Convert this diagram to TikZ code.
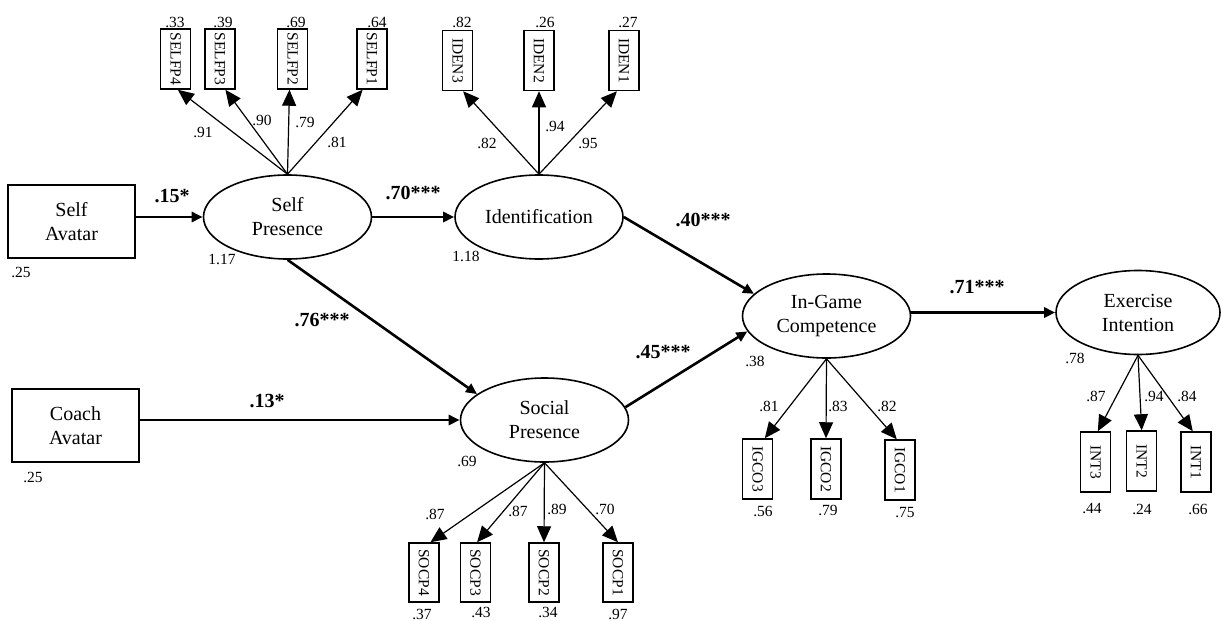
\documentclass[tikz,border=0pt]{standalone}
\usepackage{fontspec}
\setmainfont{Liberation Serif}
\usetikzlibrary{arrows.meta,shapes.geometric}
\begin{document}
\begin{tikzpicture}[x=1pt,y=-1pt,
  lat/.style={draw, ellipse, line width=1.6pt, minimum width=168pt, minimum height=84pt, inner sep=0pt, align=center, font=\fontsize{20}{24}\selectfont},
  obsbox/.style={draw, line width=2.8pt, minimum width=127pt, minimum height=73pt, align=center, font=\fontsize{20}{24}\selectfont},
  ind/.style={draw, line width=1.5pt, minimum width=30pt, minimum height=60pt, inner sep=0pt, font=\fontsize{15.5}{18}\selectfont},
  val/.style={inner sep=0pt, font=\fontsize{15.5}{18}\selectfont},
  coef/.style={inner sep=0pt, font=\fontsize{20}{24}\selectfont\bfseries},
  meas/.style={line width=1.2pt, -{Triangle[length=16pt,width=14pt]}},
  struct/.style={line width=2.6pt, -{Triangle[length=11pt,width=10pt]}},
]
\useasboundingbox (0,0) rectangle (1221,621);

% exogenous observed
\node[obsbox] (sa) at (71.5,221.5) {Self\\Avatar};
\node[obsbox] (ca) at (75.5,425.5) {Coach\\Avatar};
\node[val] (vsa) at (21,272) {.25};
\node[val] (vca) at (33,477) {.25};

% latent
\node[lat] (spres) at (287.5,217) {Self\\Presence};
\node[lat] (iden) at (539,217) {Identification};
\node[lat] (socp) at (544.5,420) {Social\\Presence};
\node[lat] (igc) at (826.5,316) {In-Game\\Competence};
\node[lat, minimum width=164pt] (exi) at (1138,312.5) {Exercise\\Intention};

\node[val] (vsp) at (222,259) {1.17};
\node[val] (vid) at (466,256) {1.18};
\node[val] (vso) at (467,461) {.69};
\node[val] (vig) at (755,361) {.38};
\node[val] (vex) at (1075,358) {.78};

% indicators: self presence
\node[ind] (sf4) at (175.7,59) {\rotatebox{-90}{SELFP4}};
\node[ind] (sf3) at (220,59) {\rotatebox{-90}{SELFP3}};
\node[ind] (sf2) at (292.7,59) {\rotatebox{-90}{SELFP2}};
\node[ind] (sf1) at (372,59) {\rotatebox{-90}{SELFP1}};
\node[val] (esf4) at (175,22) {.33};
\node[val] (esf3) at (223,22) {.39};
\node[val] (esf2) at (296,22) {.69};
\node[val] (esf1) at (377,22) {.64};

% indicators: identification
\node[ind] (id3) at (457.7,60.5) {\rotatebox{-90}{IDEN3}};
\node[ind] (id2) at (539,60.5) {\rotatebox{-90}{IDEN2}};
\node[ind] (id1) at (624,60.5) {\rotatebox{-90}{IDEN1}};
\node[val] (eid3) at (462,22) {.82};
\node[val] (eid2) at (545,22) {.26};
\node[val] (eid1) at (628,22) {.27};

% indicators: social presence
\node[ind, minimum height=59pt] (so4) at (424,572.5) {\rotatebox{-90}{SOCP4}};
\node[ind, minimum height=59pt] (so3) at (475.5,572.5) {\rotatebox{-90}{SOCP3}};
\node[ind, minimum height=59pt] (so2) at (544,572.5) {\rotatebox{-90}{SOCP2}};
\node[ind, minimum height=59pt] (so1) at (618,572.5) {\rotatebox{-90}{SOCP1}};
\node[val] (eso4) at (422,614) {.37};
\node[val] (eso3) at (481,612) {.43};
\node[val] (eso2) at (548,612) {.34};
\node[val] (eso1) at (618,614) {.97};

% indicators: in-game competence
\node[ind] (ig3) at (757.7,469) {\rotatebox{-90}{IGCO3}};
\node[ind] (ig2) at (826,469) {\rotatebox{-90}{IGCO2}};
\node[ind] (ig1) at (900,470) {\rotatebox{-90}{IGCO1}};
\node[val] (eig3) at (763,511) {.56};
\node[val] (eig2) at (828,510) {.79};
\node[val] (eig1) at (905,513) {.75};

% indicators: exercise intention
\node[ind] (in3) at (1095.7,462) {\rotatebox{-90}{INT3}};
\node[ind] (in2) at (1141.7,461) {\rotatebox{-90}{INT2}};
\node[ind] (in1) at (1196,462) {\rotatebox{-90}{INT1}};
\node[val] (ein3) at (1092,509) {.44};
\node[val] (ein2) at (1142,509) {.24};
\node[val] (ein1) at (1198,509) {.66};

% measurement arrows
\draw[meas] (spres.north) -- (sf4.-86);
\draw[meas] (spres.north) -- (sf3.-80);
\draw[meas] (spres.north) -- (sf2.-96);
\draw[meas] (spres.north) -- (sf1.-107);
\draw[meas] (iden.north) -- (id3.-80);
\draw[meas] (iden.north) -- (id2.south);
\draw[meas] (iden.north) -- (id1.-103);
\draw[meas] (socp.south) -- (so4.78);
\draw[meas] (socp.south) -- (so3.87);
\draw[meas] (socp.south) -- (so2.north);
\draw[meas] (socp.south) -- (so1.north);
\draw[meas] (igc.south) -- (ig3.77);
\draw[meas] (igc.south) -- (ig2.north);
\draw[meas] (igc.south) -- (ig1.96);
\draw[meas] (exi.south) -- (in3.86);
\draw[meas] (exi.south) -- (in2.north);
\draw[meas] (exi.south) -- (in1.96);

% loadings
\node[val] (lsf4) at (203,132) {.91};
\node[val] (lsf3) at (262,120) {.90};
\node[val] (lsf2) at (305,122) {.79};
\node[val] (lsf1) at (337,142) {.81};
\node[val] (lid3) at (487,143) {.82};
\node[val] (lid2) at (555,126) {.94};
\node[val] (lid1) at (588,143) {.95};
\node[val] (lso4) at (435,514) {.87};
\node[val] (lso3) at (518,511) {.87};
\node[val] (lso2) at (557,509) {.89};
\node[val] (lso1) at (605,509) {.70};
\node[val] (lig3) at (769,406) {.81};
\node[val] (lig2) at (838,406) {.83};
\node[val] (lig1) at (887,406) {.82};
\node[val] (lin3) at (1096,396) {.87};
\node[val] (lin2) at (1154,396) {.94};
\node[val] (lin1) at (1187,396) {.84};

% structural arrows
\draw[struct] (sa.east |- spres.west) -- (spres.west);
\draw[struct] (spres.east) -- (iden.west);
\draw[struct] (spres.south) -- (socp.159);
\draw[struct] (ca.east |- socp.west) -- (socp.west);
\draw[struct] (iden.east) -- (igc.163);
\draw[struct] (socp.9) -- (igc.191);
\draw[struct] (igc.east |- exi.west) -- (exi.west);

\node[coef] (c1) at (172,196) {.15*};
\node[coef] (c2) at (413,193) {.70***};
\node[coef] (c3) at (322,320) {.76***};
\node[coef] (c4) at (267,401) {.13*};
\node[coef] (c5) at (703,220) {.40***};
\node[coef] (c6) at (663,352) {.45***};
\node[coef] (c7) at (977,287) {.71***};
\end{tikzpicture}
\end{document}
